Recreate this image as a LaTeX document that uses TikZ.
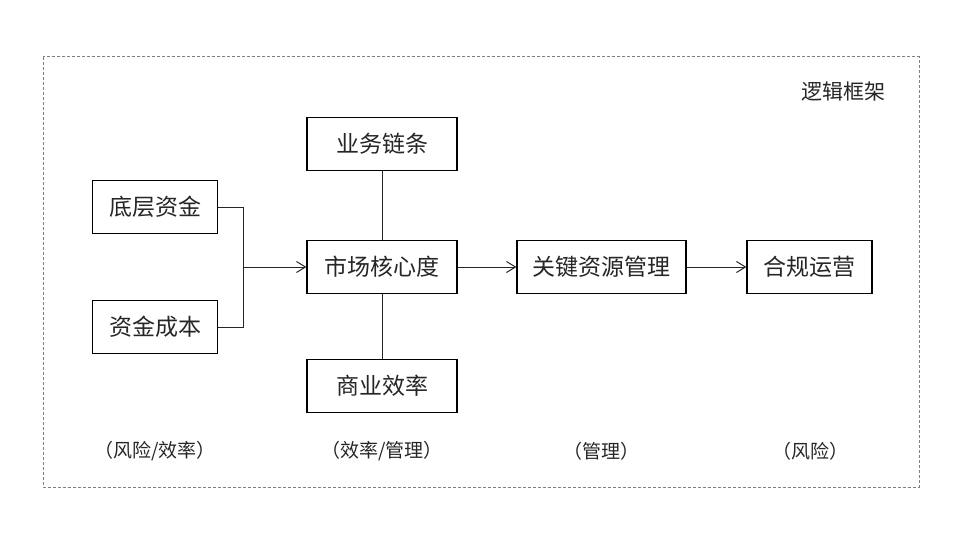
\documentclass[tikz,border=0pt]{standalone}
\usepackage{fontspec}
\newfontfamily\cjk{Noto Sans CJK SC}
\usetikzlibrary{arrows.meta}
\begin{document}
\begin{tikzpicture}[x=1pt,y=-1pt,
  box/.style={draw=black,line width=1.2pt,minimum height=53pt,inner sep=0pt,font=\cjk\fontsize{23}{26}\selectfont,text=black!85},
  lbl/.style={font=\cjk\fontsize{19}{22}\selectfont,text=black!85,inner sep=0pt},
  conn/.style={line width=1pt,black!85},
  arr/.style={conn,-{Straight Barb[length=9pt,width=11pt,line width=1pt]}}]
\useasboundingbox (0,0) rectangle (960,540);
\fill[white] (0,0) rectangle (960,540);
\draw[gray,dashed,line width=1pt,dash pattern=on 3pt off 2pt] (43,57) rectangle (919,487);
\node[lbl,font=\cjk\fontsize{21}{24}\selectfont] (title) at (843,92) {逻辑框架};
\node[box,minimum width=125pt] (a) at (155,207) {底层资金};
\node[box,minimum width=125pt] (b) at (155,327) {资金成本};
\node[box,minimum width=150pt] (top) at (382,144) {业务链条};
\node[box,minimum width=150pt] (mid) at (382,267) {市场核心度};
\node[box,minimum width=150pt] (bot) at (382,386) {商业效率};
\node[box,minimum width=169pt] (key) at (601.5,267) {关键资源管理};
\node[box,minimum width=125pt] (comp) at (809.5,267) {合规运营};
\coordinate (j) at (243,267);
\draw[conn] (a.east) -- (a.east -| j) -- (b.east -| j) -- (b.east);
\draw[arr] (j) -- (mid.west);
\draw[conn] (top) -- (mid);
\draw[conn] (mid) -- (bot);
\draw[arr] (mid) -- (key);
\draw[arr] (key) -- (comp);
\node[lbl] (l1) at (155,451) {（风险/效率）};
\node[lbl] (l2) at (382,451) {（效率/管理）};
\node[lbl] (l3) at (601,451) {（管理）};
\node[lbl] (l4) at (810,451) {（风险）};
\end{tikzpicture}
\end{document}
